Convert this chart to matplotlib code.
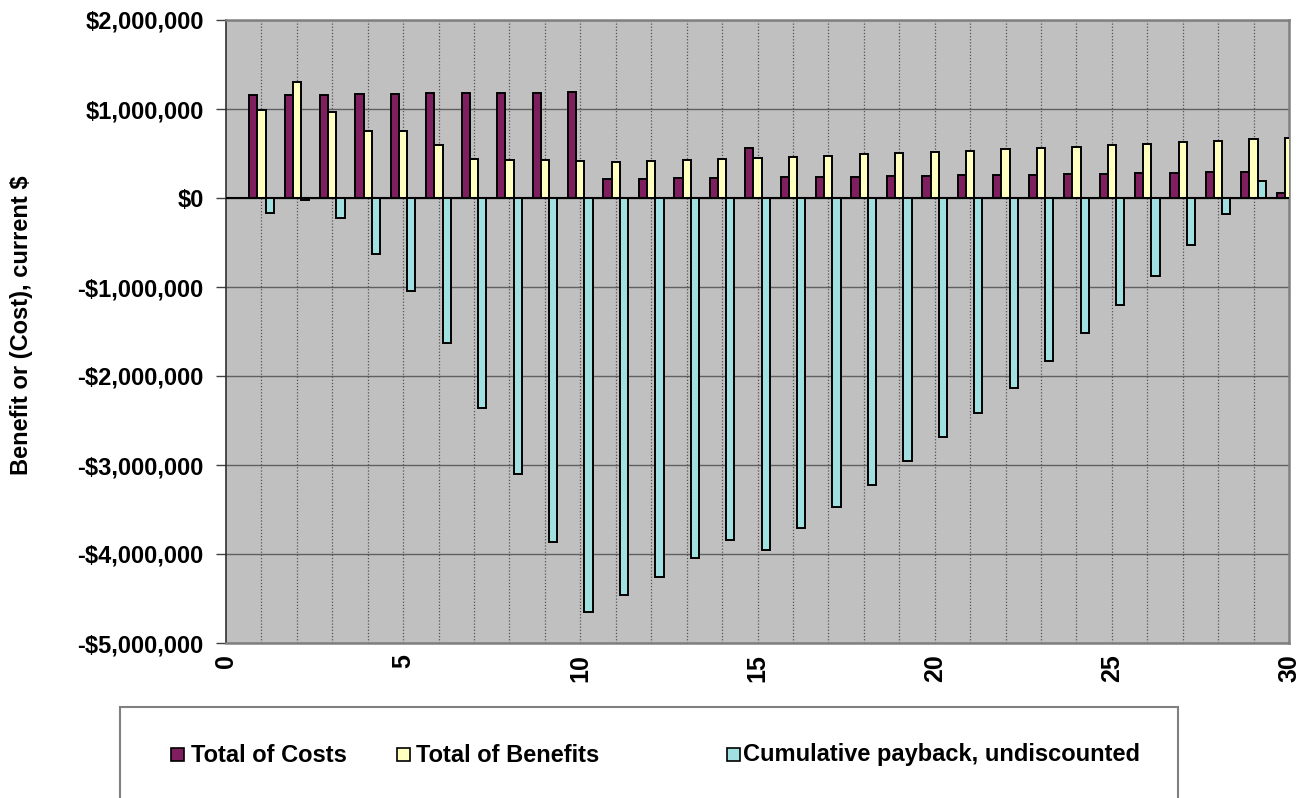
import matplotlib
matplotlib.use("Agg")
import matplotlib.pyplot as plt
from matplotlib.patches import Rectangle
from matplotlib.ticker import FuncFormatter, MultipleLocator
import numpy as np

plt.rcParams['font.family'] = ['Liberation Sans', 'DejaVu Sans']
plt.rcParams['font.weight'] = 'bold'

# Period-by-period project cash flows (current $)
periods = list(range(1, 31))
total_costs = [1157000, 1160000, 1162000, 1168000, 1172000, 1176000, 1177000, 1180000,
               1184000, 1186000, 217000, 217000, 220000, 227000, 558000, 233000,
               236000, 240000, 247000, 251000, 255000, 258000, 262000, 265000,
               271000, 276000, 280000, 288000, 292000, 60000]
total_benefits = [989000, 1303000, 963000, 756000, 749000, 596000, 438000, 430000,
                  425000, 416000, 405000, 420000, 427000, 438000, 449000, 464000,
                  475000, 490000, 502000, 517000, 532000, 547000, 558000, 573000,
                  591000, 606000, 624000, 642000, 659000, 674000]
cumulative_payback = [-169000, -22000, -221000, -625000, -1050000, -1630000, -2360000,
                      -3100000, -3870000, -4650000, -4460000, -4260000, -4050000,
                      -3840000, -3950000, -3710000, -3470000, -3220000, -2960000,
                      -2690000, -2420000, -2130000, -1830000, -1520000, -1200000,
                      -876000, -528000, -182000, 189000, 800000]

series_names = ["Total of Costs", "Total of Benefits", "Cumulative payback, undiscounted"]
series_colors = ["#801F60", "#FFFFC0", "#A0E0E0"]
y_label = "Benefit or (Cost), current $"

W, H = 1311, 798
fig = plt.figure(figsize=(W / 100, H / 100), dpi=100)
fig.patch.set_facecolor("white")

# plot area in pixel coordinates
left, right, top, bottom = 226, 1289, 20, 643
ax = fig.add_axes([left / W, 1 - bottom / H, (right - left) / W, (bottom - top) / H])
ax.set_facecolor("#C0C0C0")

x = np.array(periods, dtype=float)
bw = 0.232
series = [total_costs, total_benefits, cumulative_payback]
for i, (vals, col) in enumerate(zip(series, series_colors)):
    ax.bar(x + (i - 1) * bw, vals, width=bw, color=col, edgecolor="black",
           linewidth=1.4, zorder=3)

ax.set_xlim(0, 30)
ax.set_ylim(-5000000, 2000000)

# gridlines
ax.yaxis.set_major_locator(MultipleLocator(1000000))
ax.grid(axis="y", color="#606060", linewidth=1.0, linestyle="-", zorder=1)
for k in range(1, 30):
    ax.axvline(k, color="#555555", linewidth=0.9, linestyle=(0, (1, 1.5)), zorder=1)
ax.axhline(0, color="black", linewidth=1.5, zorder=4)
ax.set_axisbelow(True)

def money(v, pos):
    v = int(round(v))
    if v == 0:
        return "$0"
    s = "${:,}".format(abs(v))
    return "-" + s if v < 0 else s

ax.yaxis.set_major_formatter(FuncFormatter(money))
ax.tick_params(axis="y", length=7, width=1, color="#404040", pad=9, labelsize=17)
ax.set_xticks(range(0, 31, 5))
ax.set_xticklabels([str(v) for v in range(0, 31, 5)], rotation=90, fontsize=18,
                   fontweight="bold")
ax.tick_params(axis="x", length=0, pad=8)
for lab in ax.get_yticklabels():
    lab.set_fontweight("bold")

for side in ["top", "right", "bottom"]:
    ax.spines[side].set_color("#808080")
    ax.spines[side].set_linewidth(1.8)
ax.spines["left"].set_color("#303030")
ax.spines["left"].set_linewidth(1.2)

fig.text(22 / W, 1 - 325 / H, y_label, rotation=90, ha="center", va="center",
         fontsize=17, fontweight="bold")

# legend box and entries
fig.add_artist(Rectangle((120 / W, -0.02), (1178 - 120) / W, 0.02 + 1 - 707 / H,
                         transform=fig.transFigure, facecolor="white",
                         edgecolor="#808080", linewidth=1.5))
marker_x = [171, 397, 727]
text_x = [191, 416, 743]
for name, col, mx, tx in zip(series_names, series_colors, marker_x, text_x):
    fig.add_artist(Rectangle((mx / W, 1 - 760.5 / H), 13 / W, 13 / H,
                             transform=fig.transFigure, facecolor=col,
                             edgecolor="black", linewidth=1.2))
    fig.text(tx / W, 1 - 761.5 / H, name, ha="left", va="baseline",
             fontsize=17, fontweight="bold")

fig.savefig("out.png", dpi=100)
